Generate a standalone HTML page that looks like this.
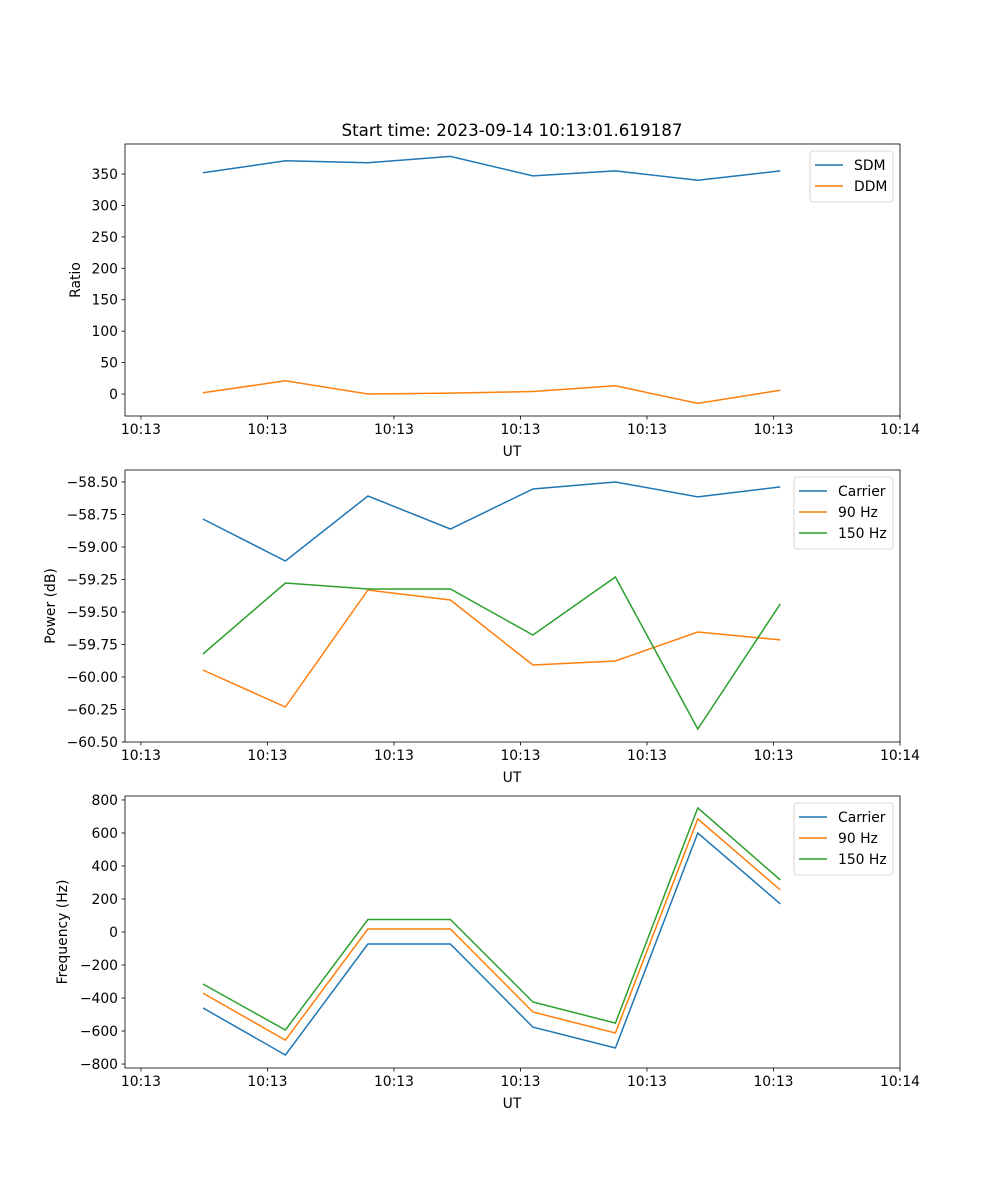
<!DOCTYPE html>
<html><head><meta charset="utf-8"><style>
body{margin:0;background:#fff}
svg{display:block;font-family:"DejaVu Sans","Liberation Sans",sans-serif}
</style></head><body>
<svg id="fig" width="1000" height="1200" viewBox="0 0 1000 1200">
<rect width="1000" height="1200" fill="#fff"/>
<text x="512" y="136" font-size="16.7" text-anchor="middle">Start time: 2023-09-14 10:13:01.619187</text>
</svg>
<script>
// shared time data (arbitrary units; ticks every 1 unit)
const times = [0.49, 1.142, 1.794, 2.446, 3.098, 3.75, 4.402, 5.054];
const xTicks = [0,1,2,3,4,5,6];
const xTickLabels = ["10:13","10:13","10:13","10:13","10:13","10:13","10:14"];
// panel 1
const sdm = [352,371,368,378,347,355,340,355];
const ddm = [2,21,0,1.5,4,13,-15,6];
const ratioTicks = [0,50,100,150,200,250,300,350];
// panel 2
const powCarrier = [-58.785,-59.108,-58.608,-58.862,-58.554,-58.5,-58.615,-58.538];
const pow90 = [-59.946,-60.231,-59.331,-59.408,-59.908,-59.877,-59.654,-59.715];
const pow150 = [-59.823,-59.277,-59.323,-59.323,-59.677,-59.231,-60.4,-59.438];
const powTicks = [-60.5,-60.25,-60,-59.75,-59.5,-59.25,-59,-58.75,-58.5];
// panel 3
const freqCarrier = [-460,-745,-73,-73,-576,-703,600,170];
const freq90 = [-370,-655,18,18,-485,-612,685,255];
const freq150 = [-315,-594,76,76,-424,-552,752,315];
const freqTicks = [-800,-600,-400,-200,0,200,400,600,800];

const NS="http://www.w3.org/2000/svg";
const svg=document.getElementById('fig');
const C=["#1f77b4","#ff7f0e","#2ca02c"];
function mk(tag,attrs,parent){const e=document.createElementNS(NS,tag);for(const k in attrs)e.setAttribute(k,attrs[k]);(parent||svg).appendChild(e);return e;}
const L=125,R=900,xmin=-0.126,xmax=6.0;
const xs=t=>L+(t-xmin)/(xmax-xmin)*(R-L);

function panel(key,top,bot,ymin,ymax,yTicks,fmt,ylabel,series,names,legW){
  const g=mk('g',{});
  
  
  const ys=v=>bot-(v-ymin)/(ymax-ymin)*(bot-top);
  series.forEach((s,i)=>{
    const p=mk('polyline',{points:s.map((v,j)=>xs(times[j]).toFixed(1)+','+ys(v).toFixed(1)).join(' '),fill:'none',stroke:C[i],'stroke-width':1.5},g);
    
    
  });
  const fr=mk('rect',{x:L,y:top,width:R-L,height:bot-top,fill:'none',stroke:'#000','stroke-width':0.8},g);
  
  
  xTicks.forEach((t,i)=>{
    const x=xs(t);
    mk('line',{x1:x,x2:x,y1:bot,y2:bot+3.5,stroke:'#000','stroke-width':0.8},g);
    const tx=mk('text',{x:x,y:bot+18,'font-size':13.9,'text-anchor':'middle'},g);
    tx.textContent=xTickLabels[i];
    
    
  });
  yTicks.forEach(v=>{
    const y=ys(v);
    mk('line',{x1:L-3.5,x2:L,y1:y,y2:y,stroke:'#000','stroke-width':0.8},g);
    const tx=mk('text',{x:L-7,y:y+5,'font-size':13.9,'text-anchor':'end'},g);
    tx.textContent=fmt(v);
    
    
  });
  const xl=mk('text',{x:512,y:bot+40,'font-size':13.9,'text-anchor':'middle'},g);
  xl.textContent='UT';
  
  
  const yc=(top+bot)/2, yx=ylabel.x;
  const yl=mk('text',{x:yx,y:yc,'font-size':13.9,'text-anchor':'middle',transform:`rotate(-90 ${yx} ${yc})`},g);
  yl.textContent=ylabel.t;
  
  
  // legend
  const lx=R-7-legW, ly=top+7, lh=names.length*21+9;
  const lg=mk('g',{},g);
  
  
  mk('rect',{x:lx,y:ly,width:legW,height:lh,rx:3,fill:'#fff','fill-opacity':0.8,stroke:'#ccc','stroke-width':0.8},lg);
  names.forEach((n,i)=>{
    const y=ly+14+i*21;
    mk('line',{x1:lx+5,x2:lx+33,y1:y,y2:y,stroke:C[i],'stroke-width':1.5},lg);
    const t=mk('text',{x:lx+44,y:y+5,'font-size':13.9},lg);
    t.textContent=n;
    
    
  });
}
const minus=s=>s.replace('-','\u2212');
panel('ratio',144,416,-35,397.8,ratioTicks,v=>minus(String(v)),{x:80,t:'Ratio'},[sdm,ddm],['SDM','DDM'],83);
panel('power',470,742,-60.5,-58.408,powTicks,v=>minus(v.toFixed(2)),{x:55,t:'Power (dB)'},[powCarrier,pow90,pow150],['Carrier','90 Hz','150 Hz'],99);
panel('frequency',796,1068,-824,824,freqTicks,v=>minus(String(v)),{x:67,t:'Frequency (Hz)'},[freqCarrier,freq90,freq150],['Carrier','90 Hz','150 Hz'],99);
</script>
</body></html>
